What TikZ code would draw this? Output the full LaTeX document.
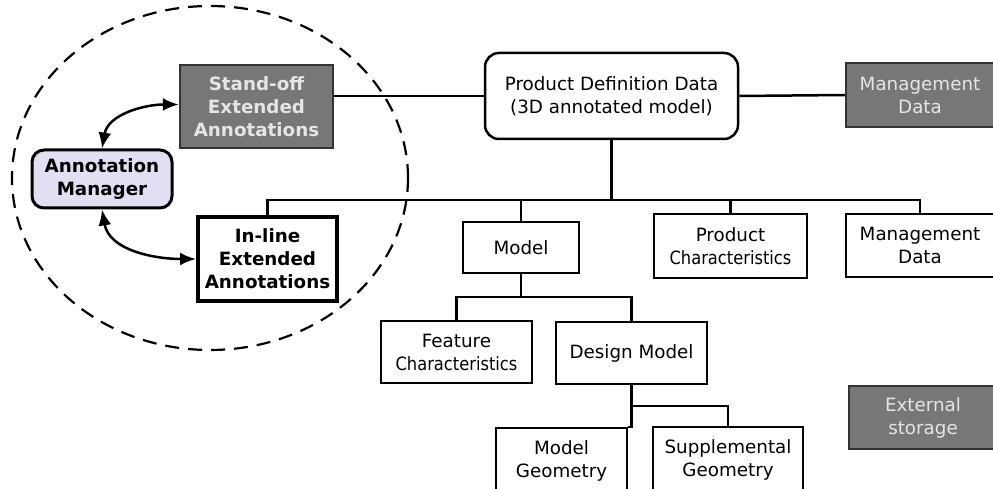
\documentclass[tikz,border=0pt]{standalone}
\usepackage{fontspec}
\setmainfont{DejaVu Sans}
\usetikzlibrary{arrows.meta}
\definecolor{boxgray}{RGB}{119,119,119}
\definecolor{mgrfill}{RGB}{224,224,242}
\newcommand{\squeezed}[1]{\scalebox{0.89}[1]{#1}}

\begin{document}
\begin{tikzpicture}
  [x=1pt,y=1pt,line width=2.5pt,
   every node/.style={draw,rectangle,align=center,inner sep=0pt,fill=white,
     font=\fontsize{18.3}{23}\selectfont},
   darkbox/.style={fill=boxgray,text=white!90!black,draw=black!80},
   link/.style={<->,>={Latex[length=16pt,width=13pt]}}]
  \useasboundingbox (0,0) rectangle (993,488);
  \clip (0,0) rectangle (993,488);
  \draw[dash pattern=on 14pt off 9pt,line width=2.2pt] (210,310) ellipse [x radius=198pt,y radius=172pt];

  \node[darkbox,minimum width=153pt,minimum height=83pt] (so) at (256.5,381.5) {\bfseries Stand-off\\\bfseries Extended\\\bfseries Annotations};
  \node[fill=mgrfill,rounded corners=12pt,line width=3pt,minimum width=140pt,minimum height=58pt] (am) at (102,309) {\bfseries Annotation\\\bfseries Manager};
  \node[line width=4pt,minimum width=139pt,minimum height=84pt] (il) at (267.5,229) {\bfseries In-line\\\bfseries Extended\\\bfseries Annotations};
  \node[rounded corners=14pt,minimum width=253pt,minimum height=86pt] (pdd) at (611.5,392) {Product Definition Data\\(3D annotated model)};
  \node[darkbox,minimum width=148pt,minimum height=64pt] (mgtop) at (920,393) {Management\\Data};
  \node[minimum width=116pt,minimum height=51pt] (model) at (521,240.5) {Model};
  \node[minimum width=153pt,minimum height=64pt] (pc) at (730.5,242) {Product\\\squeezed{Characteristics}};
  \node[minimum width=148pt,minimum height=63pt] (md) at (920,242.5) {Management\\Data};
  \node[minimum width=151pt,minimum height=62pt] (fc) at (456.5,136) {Feature\\\squeezed{Characteristics}};
  \node[minimum width=151pt,minimum height=62pt] (dm) at (631.5,135) {Design Model};
  \node[minimum width=131pt,minimum height=66pt] (mgeo) at (561.5,27) {Model\\Geometry};
  \node[minimum width=150pt,minimum height=66pt] (sgeo) at (728,28) {Supplemental\\Geometry};
  \node[darkbox,minimum width=148pt,minimum height=63pt] (ext) at (923,70.5) {External\\storage};

  \coordinate (bus) at (0,288);
  \coordinate (split1) at (0,191);
  \coordinate (split2) at (0,82);

  \draw (pdd.west) -- (pdd.west -| so.east);
  \draw (pdd.east) -- (mgtop.west);
  \draw (il.north) |- (bus -| md.north) -- (md.north);
  \foreach \n in {pdd.south,model.north,pc.north}
    \draw (\n) -- (\n |- bus);
  \draw (model.south) -- (model.south |- split1);
  \draw (fc.north) |- (dm.north |- split1) -- (dm.north);
  \draw (dm.south) |- (mgeo.north east);
  \draw (dm.south |- split2) -| (sgeo.north);

  \draw[link] (am.north) to[out=80,in=180] ([yshift=2pt]so.west);
  \draw[link] (am.south) to[out=-80,in=180] (il.west);
\end{tikzpicture}
\end{document}
